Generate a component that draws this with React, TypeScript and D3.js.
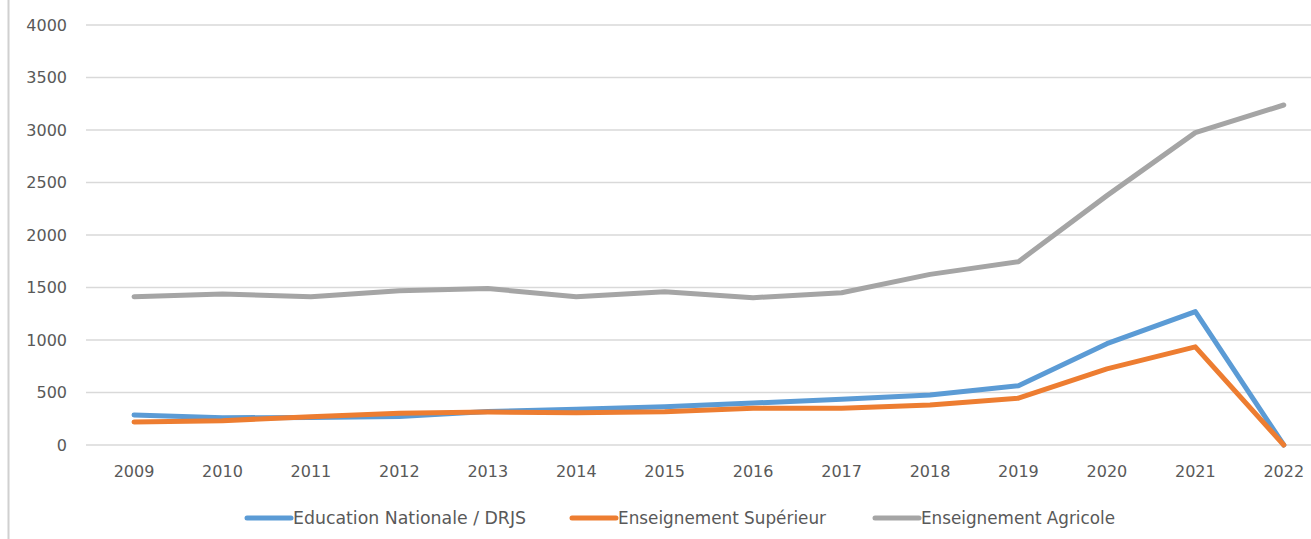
import { scaleBand, scaleLinear, line } from 'd3';

const years = ['2009', '2010', '2011', '2012', '2013', '2014', '2015', '2016', '2017', '2018', '2019', '2020', '2021', '2022'];
const education = [286, 260, 262, 272, 318, 340, 365, 400, 435, 476, 565, 965, 1270, 0];
const superieur = [219, 232, 270, 302, 314, 308, 317, 349, 349, 381, 446, 725, 935, 0];
const agricole = [1412, 1438, 1412, 1470, 1490, 1412, 1460, 1403, 1450, 1625, 1746, 2375, 2975, 3238];
const yTicks = [0, 500, 1000, 1500, 2000, 2500, 3000, 3500, 4000];

const series = [
  { name: 'Education Nationale / DRJS', values: education, color: '#5B9BD5', lx: 245, tw: 233 },
  { name: 'Enseignement Supérieur', values: superieur, color: '#ED7D31', lx: 570, tw: 208 },
  { name: 'Enseignement Agricole', values: agricole, color: '#A5A5A5', lx: 873, tw: 194 },
];

const W = 1311;
const H = 539;

export default function App() {
  const x = scaleBand().domain(years).range([89.8, 1328]);
  const y = scaleLinear().domain([0, 4000]).range([445, 25]);
  const cx = (d: string) => (x(d) as number) + x.bandwidth() / 2;
  const path = line<number>()
    .x((_, i) => cx(years[i]))
    .y((v) => y(v));
  const font = "'DejaVu Sans', sans-serif";

  return (
    <svg width={W} height={H} style={{ position: 'absolute', left: 0, top: 0, background: '#fff' }}>
      {/* left border */}
      <line x1={8.5} x2={8.5} y1={0} y2={H} stroke="#d0d0d0" strokeWidth={2} />

      {/* grid + y labels */}
      {yTicks.map((t) => (
        <g key={t}>
          <line x1={86} x2={W} y1={y(t)} y2={y(t)} stroke="#d9d9d9" strokeWidth={1.6} />
          <text x={67} y={y(t)} dy="0.36em" textAnchor="end" fontFamily={font} fontSize={16} fill="#595959">
            {t}
          </text>
        </g>
      ))}

      {/* x labels */}
      {years.map((d) => (
        <text key={d} x={cx(d)} y={471} dy="0.36em" textAnchor="middle" fontFamily={font} fontSize={16} fill="#595959">
          {d}
        </text>
      ))}

      {/* lines */}
      {series.map((s) => (
        <path
          key={s.name}
          d={path(s.values) as string}
          fill="none"
          stroke={s.color}
          strokeWidth={5}
          strokeLinejoin="round"
          strokeLinecap="round"
        />
      ))}

      {/* legend */}
      {series.map((s) => (
        <g key={s.name}>
          <line x1={s.lx + 2} x2={s.lx + 46} y1={518} y2={518} stroke={s.color} strokeWidth={5} strokeLinecap="round" />
          <text
            x={s.lx + 48}
            y={518}
            dy="0.36em"
            fontFamily={font}
            fontSize={17}
            fill="#595959"
            textLength={s.tw}
            lengthAdjust="spacingAndGlyphs"
          >
            {s.name}
          </text>
        </g>
      ))}
    </svg>
  );
}
